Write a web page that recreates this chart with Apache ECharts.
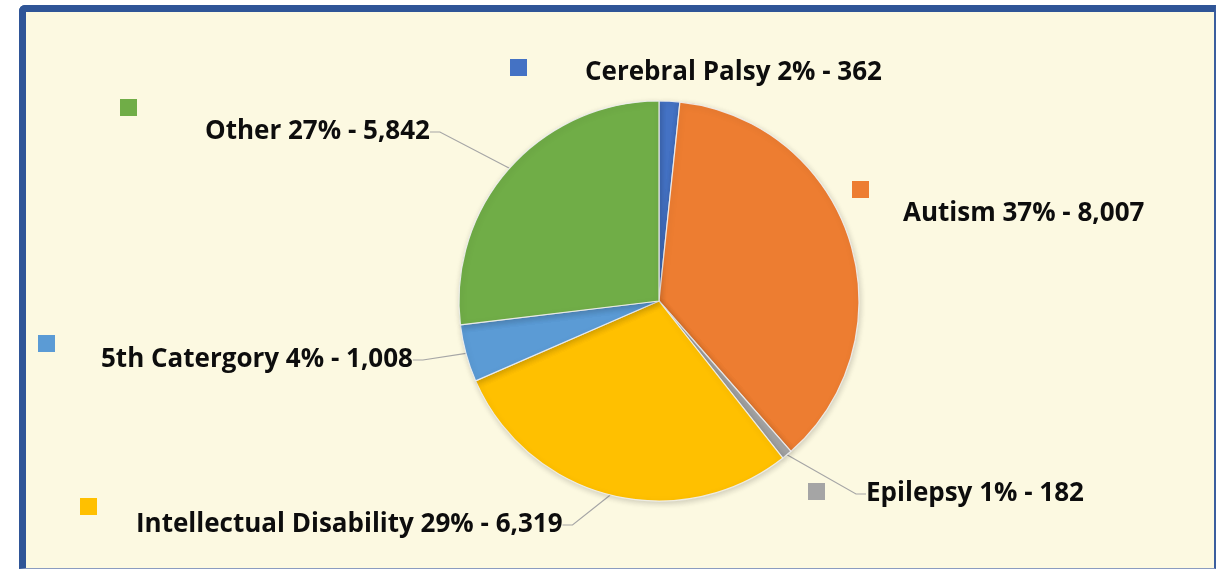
<!DOCTYPE html>
<html>
<head>
<meta charset="utf-8">
<script src="https://cdn.jsdelivr.net/npm/echarts@6/dist/echarts.min.js"></script>
<style>
  html, body { margin: 0; padding: 0; background: #ffffff; }
  #frame {
    position: absolute; left: 19px; top: 5px; width: 1188px; height: 556px;
    background: #FCF9E1;
    border-left: 7px solid #2F5597; border-top: 7px solid #2F5597;
    border-right: 2px solid #3B5E9E; border-bottom: 1px solid #8A9CC0;
    border-top-left-radius: 6px;
  }
  #chart { position: absolute; left: 0; top: 0; width: 1216px; height: 570px; }
</style>
</head>
<body>
<div id="frame"></div>
<div id="chart"></div>
<script>
const categories = ['Cerebral Palsy', 'Autism', 'Epilepsy', 'Intellectual Disability', '5th Catergory', 'Other'];
const values = [362, 8007, 182, 6319, 1008, 5842];
const percentLabels = ['2%', '37%', '1%', '29%', '4%', '27%'];
const colors = ['#4472C4', '#ED7D31', '#A5A5A5', '#FFC000', '#5B9BD5', '#70AD47'];

// layout: label text anchor (left x, middle y) and key square (left, top)
const labelPos = [[585, 73], [903, 214], [866, 494], [136, 525], [101, 360], [205, 132]];
const keyPos = [[510, 59], [852, 181], [808, 483], [80, 498], [38, 335], [120, 99]];
const showLine = [false, false, true, true, true, true];

const chart = echarts.init(document.getElementById('chart'), null, { renderer: 'canvas' });

const data = categories.map((c, i) => ({
  name: c,
  value: values[i],
  itemStyle: { color: colors[i] },
  labelLine: { show: showLine[i] }
}));

const legends = categories.map((c, i) => ({
  data: [c],
  left: keyPos[i][0],
  top: keyPos[i][1],
  padding: 0,
  icon: 'rect',
  itemWidth: 17,
  itemHeight: 17,
  itemGap: 0,
  selectedMode: false,
  itemStyle: { borderWidth: 0, shadowBlur: 0, shadowColor: 'transparent' },
  formatter: () => '',
  textStyle: { fontSize: 10, padding: 0 }
}));

chart.setOption({
  animation: false,
  color: colors,
  legend: legends,
  series: [{
    type: 'pie',
    center: [659, 301],
    radius: 200,
    startAngle: 90,
    clockwise: true,
    avoidLabelOverlap: false,
    emphasis: { disabled: true },
    data: data,
    itemStyle: {
      borderColor: 'rgba(240,240,240,0.9)',
      borderWidth: 1.2,
      shadowBlur: 6,
      shadowColor: 'rgba(0,0,0,0.18)',
      shadowOffsetX: 1,
      shadowOffsetY: 2
    },
    label: {
      show: true,
      formatter: p => p.name + ' ' + percentLabels[p.dataIndex] + ' - ' + p.value.toLocaleString('en-US'),
      fontFamily: 'Open Sans',
      fontWeight: 'bold',
      fontSize: 26,
      color: '#0d0d0d'
    },
    labelLine: {
      show: true,
      length: 10,
      length2: 10,
      lineStyle: { color: '#A6A6A6', width: 1.2 }
    },
    labelLayout: function (params) {
      const p = labelPos[params.dataIndex];
      return { x: p[0], y: p[1], align: 'left', verticalAlign: 'middle' };
    }
  }]
});
</script>
</body>
</html>
